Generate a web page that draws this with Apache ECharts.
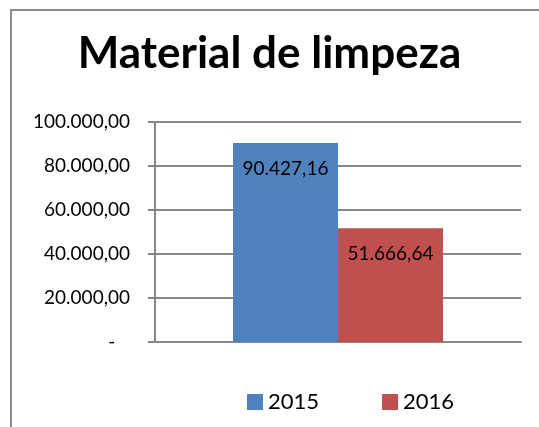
<!DOCTYPE html>
<html>
<head>
<meta charset="utf-8">
<script src="https://cdn.jsdelivr.net/npm/echarts@6/dist/echarts.min.js"></script>
<style>
  html, body { margin: 0; padding: 0; background: #fff; }
  #chart { width: 539px; height: 427px; }
</style>
</head>
<body>
<div id="chart"></div>
<script>
const categories = ['Material de limpeza']
const years = ['2015', '2016']
const values2015 = [90427.16]
const values2016 = [51666.64]
const yTicks = [0, 20000, 40000, 60000, 80000, 100000]

const colors = ['#4F81BD', '#C0504D']
const gray = '#868686'
const font = 'Lato'

// 12345.6 -> "12.345,60"
function fmt(v) {
  const parts = v.toFixed(2).split('.')
  const int = parts[0].replace(/\B(?=(\d{3})+(?!\d))/g, '.')
  return int + ',' + parts[1]
}

const chart = echarts.init(document.getElementById('chart'))

chart.setOption({
  animation: false,
  color: colors,
  title: {
    text: categories[0],
    left: 'center',
    top: 27,
    textStyle: { fontFamily: font, fontWeight: 'bold', fontSize: 44, color: '#000' }
  },
  graphic: [
    {
      type: 'rect',
      shape: { x: 11, y: 10, width: 600, height: 500 },
      style: { fill: 'none', stroke: '#8c8c8c', lineWidth: 2 },
      silent: true
    }
  ],
  legend: {
    data: years,
    left: 242,
    top: 386,
    icon: 'rect',
    itemWidth: 16,
    itemHeight: 16,
    itemGap: 63,
    textStyle: { fontFamily: font, fontSize: 22, color: '#000' }
  },
  grid: { left: 155, right: 18, top: 122, bottom: 85 },
  xAxis: {
    type: 'category',
    data: categories,
    axisLine: { lineStyle: { color: gray, width: 2 } },
    axisTick: { show: false },
    axisLabel: { show: false }
  },
  yAxis: {
    type: 'value',
    min: yTicks[0],
    max: yTicks[yTicks.length - 1],
    interval: 20000,
    axisLine: { show: true, lineStyle: { color: gray, width: 2 } },
    axisTick: { show: true, length: 7, lineStyle: { color: gray, width: 2 } },
    splitLine: { lineStyle: { color: gray, width: 2 } },
    axisLabel: {
      margin: 25,
      fontFamily: font,
      fontSize: 19,
      color: '#000',
      formatter: v => (v === 0 ? '-   ' : fmt(v))
    }
  },
  series: [
    {
      name: years[0],
      type: 'bar',
      data: values2015,
      barWidth: 105,
      barGap: 0,
      label: {
        show: true,
        position: 'insideTop',
        distance: 16,
        fontFamily: font,
        fontSize: 19,
        color: '#000',
        formatter: p => fmt(p.value)
      }
    },
    {
      name: years[1],
      type: 'bar',
      data: values2016,
      barWidth: 105,
      barGap: 0,
      label: {
        show: true,
        position: 'insideTop',
        distance: 16,
        fontFamily: font,
        fontSize: 19,
        color: '#000',
        formatter: p => fmt(p.value)
      }
    }
  ]
})
</script>
</body>
</html>
